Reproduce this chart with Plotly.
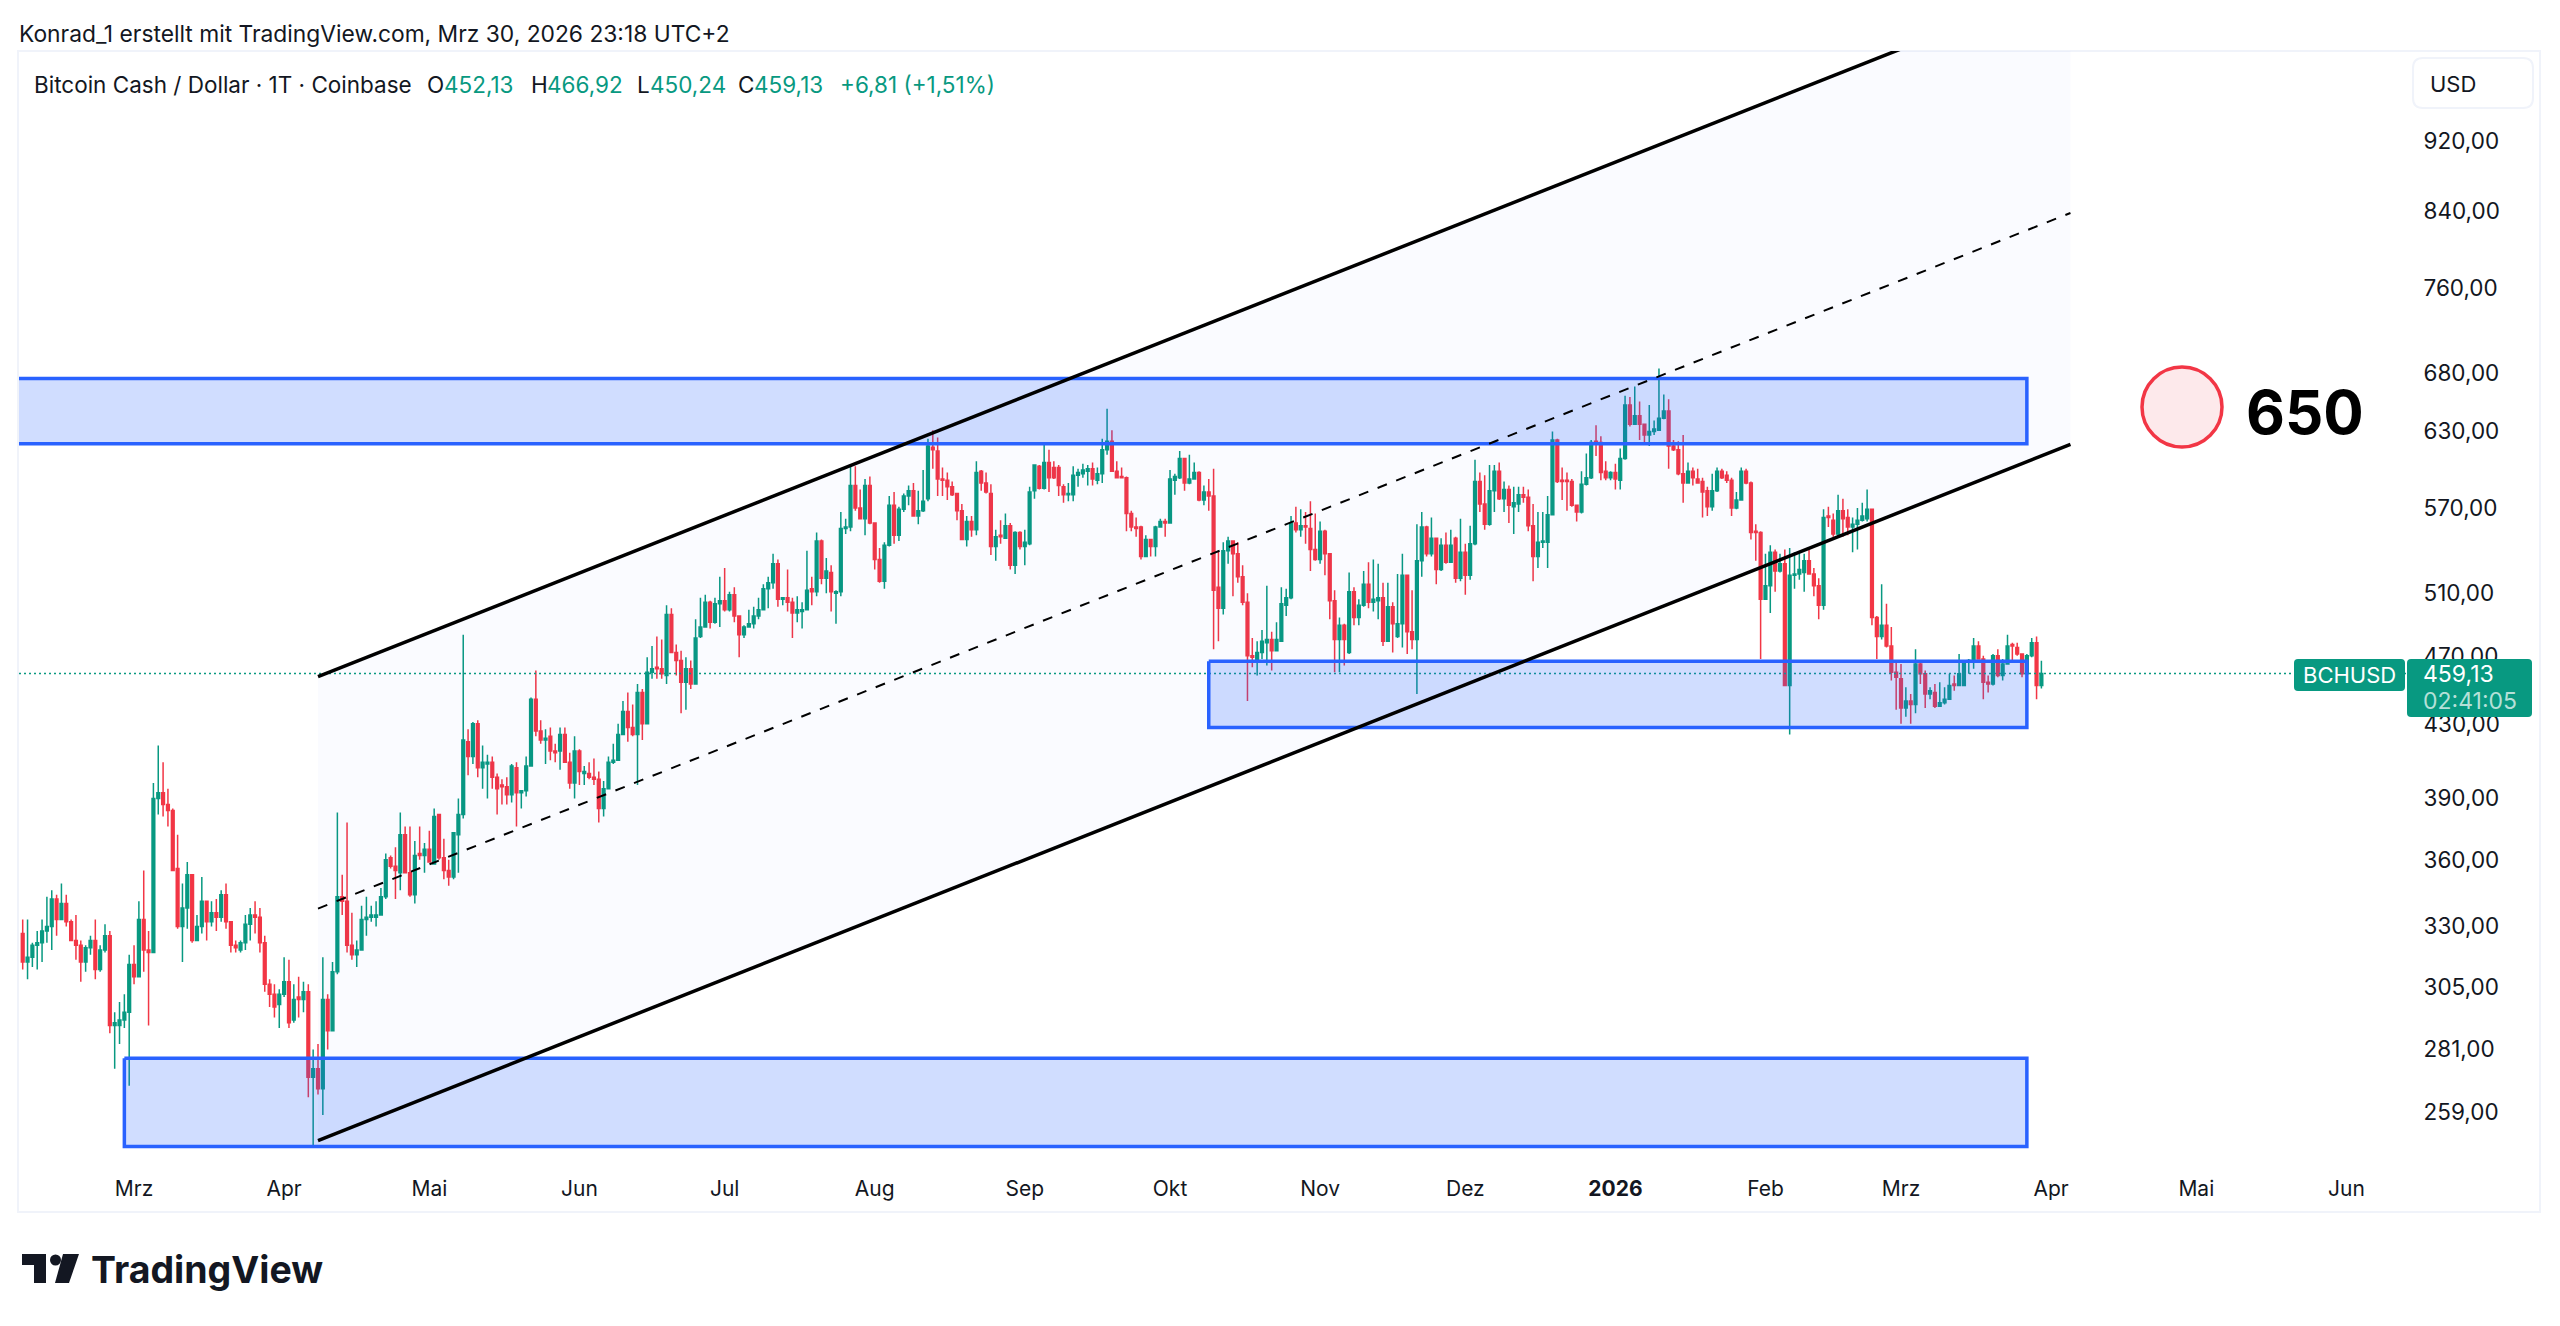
#bitcoin cash daily candles, log scale, with channel and zones drawn on top
import math
import pandas as pd
import plotly.graph_objects as go

W = 2560
H = 1326

# daily candles, first one is 2025-02-06, last one is 2026-03-30
first_day = "2025-02-06"

opens = [
    327,315,317,322,323,328,330,342,333,340,
    332,324,322,315,321,324,312,320,326,290,
    290,292,295,314,309,333,320,319,390,393,
    387,384,356,330,338,353,324,330,341,332,
    336,334,344,332,322,320,323,331,335,334,
    323,306,302,298,302,307,292,301,300,303,
    271,274,267,300,288,311,343,341,322,318,
    320,333,334,334,335,343,361,357,354,372,
    354,344,363,362,365,358,382,361,355,352,
    372,382,420,412,430,406,408,409,401,397,
    396,392,406,393,394,407,444,426,421,423,
    415,415,424,409,398,415,403,403,401,400,
    385,395,409,410,424,437,428,424,448,430,
    460,463,462,458,496,472,467,454,462,453,
    482,488,504,491,503,505,499,509,495,483,
    488,490,495,499,513,517,530,506,507,504,
    497,498,499,513,511,546,520,524,510,511,
    555,556,587,570,562,587,559,533,518,543,
    572,550,569,579,583,564,568,577,617,614,
    592,591,586,581,568,547,560,554,598,589,
    581,542,550,548,557,529,552,542,544,583,
    602,585,605,601,601,586,580,580,595,596,
    598,600,591,596,615,622,598,594,593,566,
    556,556,535,547,542,556,560,559,591,593,
    608,589,592,597,576,582,579,514,500,539,
    546,537,521,504,470,467,472,478,480,473,
    479,502,507,559,554,557,555,540,533,553,
    537,505,480,489,472,511,494,502,516,504,
    505,507,479,501,482,490,522,485,480,532,
    556,537,548,526,543,531,548,520,538,522,
    544,590,573,558,583,598,577,584,571,573,
    580,578,557,535,545,545,565,623,591,591,
    590,572,567,588,593,622,621,598,593,597,
    591,608,652,636,643,636,627,630,631,641,
    647,618,615,596,589,598,592,590,583,571,
    583,598,595,591,570,576,598,589,553,552,
    506,515,538,525,530,452,522,523,524,532,
    523,515,502,564,561,551,568,563,556,558,
    561,562,569,494,482,489,476,460,456,439,
    443,441,465,459,447,448,440,442,444,453,
    452,452,466,467,476,468,454,453,470,458,
    465,477,475,471,459,470,478,452.13,
]
highs = [
    333,333,323,328,333,343,346,344,349,344,
    333,335,324,322,326,333,322,331,328,295,
    299,302,318,322,341,355,328,398,418,409,
    395,385,372,349,359,353,335,352,341,341,
    342,346,349,332,324,324,335,338,341,338,
    326,308,306,304,317,316,306,309,307,306,
    281,283,317,302,315,383,353,378,336,324,
    339,343,339,341,347,363,362,366,383,376,
    376,369,376,368,374,385,382,370,360,373,
    390,483,427,431,432,418,413,412,403,400,
    401,408,409,394,412,445,461,432,427,428,
    419,428,428,414,423,416,407,409,411,404,
    399,412,419,430,443,448,441,453,450,469,
    476,482,480,502,500,477,473,469,467,493,
    507,509,505,507,521,527,511,514,495,489,
    499,501,507,516,521,537,533,507,526,507,
    508,504,539,521,552,547,534,529,512,567,
    562,603,602,584,592,594,559,541,545,579,
    582,571,581,587,589,583,599,624,631,625,
    601,597,590,581,573,564,564,606,599,597,
    588,554,561,566,559,553,553,554,586,603,
    603,620,615,606,603,588,589,602,600,604,
    603,605,601,624,649,631,606,601,594,568,
    563,557,550,547,557,562,562,599,596,614,
    608,611,605,598,587,592,600,539,545,549,
    546,545,529,510,481,479,486,515,485,491,
    514,513,564,571,569,567,575,566,560,554,
    537,512,494,490,524,514,506,525,531,533,
    530,517,517,504,523,537,522,512,558,567,
    557,563,548,548,552,554,549,562,544,557,
    607,597,595,603,603,605,590,587,586,586,
    586,584,573,567,567,579,630,624,601,597,
    592,572,598,612,623,635,626,606,598,604,
    616,660,659,668,655,636,652,639,684,661,
    657,623,622,627,605,601,600,593,586,596,
    601,600,598,593,582,601,600,590,558,553,
    537,543,540,537,540,541,538,537,537,540,
    527,520,569,571,566,580,577,569,563,570,
    574,584,569,495,516,503,488,466,465,451,
    447,474,466,461,451,453,454,451,459,458,
    471,466,468,481,479,470,458,471,474,468,
    483,478,478,471,471,481,482,466.92,
]
lows = [
    312,308,313,312,315,323,320,326,333,330,
    324,316,307,311,318,308,311,319,287,274,
    283,289,268,306,309,311,290,319,382,381,
    376,355,329,315,329,323,324,327,324,330,
    328,332,329,319,319,319,320,324,327,319,
    303,297,293,289,301,289,291,293,295,264,
    248,265,258,281,288,310,335,319,316,313,
    320,326,332,330,335,342,356,342,346,354,
    343,340,360,354,359,358,360,351,348,351,
    354,380,402,408,401,395,390,395,382,387,
    387,388,376,385,391,407,423,419,408,410,
    409,405,409,395,390,397,397,400,397,378,
    381,395,408,410,424,420,423,397,421,430,
    456,456,456,453,472,458,436,438,450,453,
    481,488,487,490,488,498,498,491,469,481,
    488,487,493,499,500,513,501,502,498,481,
    491,487,499,502,508,516,510,498,490,508,
    551,553,568,562,550,558,526,517,513,542,
    544,546,567,572,564,558,567,575,600,579,
    579,576,579,561,547,542,549,550,583,581,
    536,532,544,548,526,523,540,529,543,577,
    584,584,582,592,579,574,575,575,586,593,
    587,587,588,589,611,598,593,593,553,553,
    549,533,535,535,535,556,549,559,580,592,
    583,588,592,575,572,568,474,479,496,530,
    508,517,502,443,463,458,468,464,461,473,
    479,495,506,552,549,544,525,532,530,522,
    493,460,460,464,471,489,489,501,500,498,
    493,476,479,472,481,475,471,474,447,521,
    535,535,516,525,530,531,517,518,509,519,
    543,567,554,557,567,576,567,559,551,567,
    574,553,518,527,541,527,565,589,576,568,
    571,560,566,587,592,610,591,591,591,584,
    584,607,634,636,623,621,618,627,631,640,
    600,614,595,574,589,587,589,563,564,568,
    582,592,589,564,569,576,588,547,532,468,
    506,497,511,524,452,424,513,519,511,523,
    508,493,499,556,549,549,549,550,538,540,
    560,560,489,468,480,475,455,438,430,434,
    430,436,453,439,444,439,440,441,444,449,
    452,452,459,462,468,444,448,452,457,455,
    465,467,470,457,455,469,444,450.24,
]
closes = [
    315,317,322,323,328,330,342,333,340,332,
    324,322,315,321,324,312,320,326,290,291,
    292,295,314,309,333,320,319,390,393,387,
    384,355,330,338,353,324,330,341,332,336,
    334,344,332,322,321,323,331,335,334,323,
    306,302,297,302,307,291,300,300,303,271,
    274,267,300,288,311,343,341,322,318,320,
    333,334,335,335,343,360,357,355,372,354,
    344,362,362,365,359,381,361,355,352,373,
    382,421,412,430,406,409,409,401,395,396,
    392,407,393,394,407,444,426,421,422,415,
    414,424,409,398,415,404,404,401,400,385,
    395,409,410,424,437,428,424,448,430,460,
    462,462,459,496,472,467,454,462,453,481,
    488,504,491,503,505,499,509,495,483,488,
    490,495,499,513,517,530,506,507,504,497,
    499,499,512,511,546,520,525,511,511,555,
    556,587,570,562,587,559,533,518,543,572,
    550,569,579,583,564,568,575,618,615,592,
    591,586,580,568,547,560,554,597,589,582,
    542,549,549,557,529,552,542,545,582,603,
    585,605,593,593,587,580,581,595,597,599,
    600,592,596,615,622,598,593,593,566,556,
    555,535,547,542,556,560,559,592,594,608,
    589,592,597,576,582,579,512,500,539,546,
    537,521,504,470,469,472,479,480,473,480,
    503,507,559,554,557,556,540,533,553,537,
    505,480,489,480,511,494,502,516,504,506,
    507,479,501,490,490,522,485,480,532,556,
    537,548,526,543,531,543,520,538,522,544,
    590,573,558,583,598,577,584,572,574,580,
    578,557,535,545,546,565,623,590,590,590,
    572,567,588,593,621,621,597,593,597,592,
    608,652,636,643,636,627,630,632,641,647,
    618,615,596,589,598,593,589,582,571,583,
    598,593,591,570,576,598,589,552,552,506,
    515,538,525,530,452,522,523,526,532,523,
    515,502,563,563,551,568,562,556,558,561,
    564,569,494,482,489,476,460,457,439,443,
    441,465,459,447,449,440,442,444,452,452,
    459,466,467,476,468,454,453,470,458,465,
    476,476,471,459,470,478,452,459.13,
]
assert len(opens) == len(highs) == len(lows) == len(closes)

last_price = 459.13

# price axis
price_ticks = [920, 840, 760, 680, 630, 570, 510, 470, 430, 390, 360, 330, 305, 281, 259]
price_labels = ["%d,00" % p for p in price_ticks]

# time axis
month_ticks = ["2025-03-01", "2025-04-01", "2025-05-01", "2025-06-01", "2025-07-01", "2025-08-01",
               "2025-09-01", "2025-10-01", "2025-11-01", "2025-12-01", "2026-01-01", "2026-02-01",
               "2026-03-01", "2026-04-01", "2026-05-01", "2026-06-01"]
month_labels = ["Mrz", "Apr", "Mai", "Jun", "Jul", "Aug", "Sep", "Okt", "Nov", "Dez", "<b>2026</b>",
                "Feb", "Mrz", "Apr", "Mai", "Jun"]

# channel: [start, end] for each line
channel_days = ["2025-04-08", "2026-04-05"]
channel_upper = [457.3, 1133.5]
channel_middle = [337.8, 838]
channel_lower = [249.5, 619.4]

# zones: left day, right day, top price, bottom price
zone_days_upper = ["2025-01-15", "2026-03-27"]
zone_prices_upper = [675, 620]
zone_days_middle = ["2025-10-09", "2026-03-27"]
zone_prices_middle = [466.6, 428]
zone_days_lower = ["2025-02-27", "2026-03-27"]
zone_prices_lower = [277.8, 247.6]

UP = "#089981"
DOWN = "#F23645"
BLUE = "#2962FF"
INK = "#131722"
FRAME = "#F0F3FA"
FONT = "Inter"

# plot area in pixels
left, right, top, bottom = 19, 2412, 51, 1165
px_per_day = 4.841
first_x = 22.7


def px(x):
    return x / W


def py(y):
    return 1 - y / H


def rrect(x0, y0, x1, y1, r):
    #rounded box as a path in paper coordinates
    pts = [
        "M %f %f" % (px(x0 + r), py(y0)),
        "L %f %f" % (px(x1 - r), py(y0)),
        "Q %f %f %f %f" % (px(x1), py(y0), px(x1), py(y0 + r)),
        "L %f %f" % (px(x1), py(y1 - r)),
        "Q %f %f %f %f" % (px(x1), py(y1), px(x1 - r), py(y1)),
        "L %f %f" % (px(x0 + r), py(y1)),
        "Q %f %f %f %f" % (px(x0), py(y1), px(x0), py(y1 - r)),
        "L %f %f" % (px(x0), py(y0 + r)),
        "Q %f %f %f %f" % (px(x0), py(y0), px(x0 + r), py(y0)),
        "Z",
    ]
    return " ".join(pts)


def poly(points):
    s = "M " + " L ".join("%f %f" % (px(a), py(b)) for a, b in points)
    return s + " Z"


dates = pd.date_range(first_day, periods=len(closes), freq="D")
x_start = dates[0] + pd.Timedelta(days=(left - first_x) / px_per_day)
x_end = dates[0] + pd.Timedelta(days=(right - first_x) / px_per_day)

# y scale: 920 sits at y=141.5 and 765.6 pixels per e-fold
y_hi = 920 * math.exp((141.5 - top) / 765.6)
y_lo = 920 * math.exp((141.5 - bottom) / 765.6)

fig = go.Figure()

#very light fill of the channel
fig.add_trace(go.Scatter(
    x=[channel_days[0], channel_days[1], channel_days[1], channel_days[0], channel_days[0]],
    y=[channel_upper[0], channel_upper[1], channel_lower[1], channel_lower[0], channel_upper[0]],
    mode="lines", line=dict(width=0), fill="toself", fillcolor="rgba(41,98,255,0.022)",
    hoverinfo="skip"))

fig.add_trace(go.Candlestick(
    x=dates, open=opens, high=highs, low=lows, close=closes,
    increasing=dict(line=dict(color=UP, width=1.5), fillcolor=UP),
    decreasing=dict(line=dict(color=DOWN, width=1.5), fillcolor=DOWN)))

#last price line
fig.add_trace(go.Scatter(
    x=[x_start, x_end], y=[last_price, last_price], mode="lines",
    line=dict(color=UP, width=1.5, dash="2px,3px"), hoverinfo="skip"))

#zones sit over the candles
for days, prices in [(zone_days_upper, zone_prices_upper),
                     (zone_days_middle, zone_prices_middle),
                     (zone_days_lower, zone_prices_lower)]:
    fig.add_trace(go.Scatter(
        x=[days[0], days[1], days[1], days[0], days[0]],
        y=[prices[0], prices[0], prices[1], prices[1], prices[0]],
        mode="lines", line=dict(color=BLUE, width=3.5), fill="toself",
        fillcolor="rgba(41,98,255,0.22)", hoverinfo="skip"))

#channel lines
fig.add_trace(go.Scatter(x=channel_days, y=channel_upper, mode="lines",
                         line=dict(color="black", width=3.5), hoverinfo="skip"))
fig.add_trace(go.Scatter(x=channel_days, y=channel_lower, mode="lines",
                         line=dict(color="black", width=3.5), hoverinfo="skip"))
fig.add_trace(go.Scatter(x=channel_days, y=channel_middle, mode="lines",
                         line=dict(color="black", width=2, dash="10px,10px"), hoverinfo="skip"))

shapes = [
    # chart frame
    dict(type="rect", xref="paper", yref="paper", x0=px(18), x1=px(2540), y0=py(51), y1=py(1212),
         line=dict(color=FRAME, width=2), layer="below"),
    # currency box
    dict(type="path", xref="paper", yref="paper", path=rrect(2413, 58, 2533, 108, 10),
         line=dict(color=FRAME, width=2), fillcolor="white", layer="above"),
    # price labels
    dict(type="path", xref="paper", yref="paper", path=rrect(2294, 659, 2405, 691, 4),
         line=dict(width=0), fillcolor=UP, layer="above"),
    dict(type="path", xref="paper", yref="paper", path=rrect(2407, 659, 2532, 717, 4),
         line=dict(width=0), fillcolor=UP, layer="above"),
    # target marker
    dict(type="circle", xref="paper", yref="paper", x0=px(2142), x1=px(2222), y0=py(367), y1=py(447),
         line=dict(color=DOWN, width=3.5), fillcolor="#FDE9EB", layer="above"),
    # logo
    dict(type="path", xref="paper", yref="paper",
         path=poly([(22, 1254), (46, 1254), (46, 1283), (34, 1283), (34, 1265), (22, 1265)]),
         line=dict(width=0), fillcolor=INK, layer="above"),
    dict(type="circle", xref="paper", yref="paper", x0=px(50), x1=px(61), y0=py(1254.5), y1=py(1265.5),
         line=dict(width=0), fillcolor=INK, layer="above"),
    dict(type="path", xref="paper", yref="paper",
         path=poly([(63, 1254), (79, 1254), (69, 1283), (55, 1283)]),
         line=dict(width=0), fillcolor=INK, layer="above"),
]


def label(x, y, text, size=22.5, color=INK, anchor="left", weight=None):
    if weight:
        text = "<b>%s</b>" % text
    return dict(xref="paper", yref="paper", x=px(x), y=py(y), text=text, showarrow=False,
                xanchor=anchor, yanchor="middle", align=anchor, borderpad=0, borderwidth=0,
                font=dict(family=FONT, size=size, color=color))


annotations = [
    label(19, 33, "Konrad_1 erstellt mit TradingView.com, Mrz 30, 2026 23:18 UTC+2", size=22.8),
    label(34, 84, "Bitcoin Cash / Dollar · 1T · Coinbase"),
    label(427, 84, "O"), label(444, 84, "452,13", color=UP),
    label(531, 84, "H"), label(547, 84, "466,92", color=UP),
    label(637, 84, "L"), label(650, 84, "450,24", color=UP),
    label(738, 84, "C"), label(754, 84, "459,13", color=UP),
    label(840, 84, "+6,81 (+1,51%)", color=UP),
    label(2430, 84, "USD", size=22),
    label(2349.5, 675, "BCHUSD", size=22, color="white", anchor="center"),
    label(2423, 674, "459,13", size=23, color="white"),
    label(2423, 701, "02:41:05", size=23, color="#B5E0D8"),
    label(2246, 412, "650", size=60, color="black", weight=True),
    label(91, 1269, "TradingView", size=37.5, weight=True),
]

fig.update_layout(
    width=W, height=H, autosize=False,
    margin=dict(l=0, r=0, t=0, b=0, pad=0),
    paper_bgcolor="white", plot_bgcolor="white",
    showlegend=False,
    boxgap=0.2,
    shapes=shapes, annotations=annotations,
    font=dict(family=FONT, color=INK, size=22),
    xaxis=dict(
        domain=[px(left), px(right)], range=[x_start, x_end], type="date",
        rangeslider=dict(visible=False), showgrid=False, zeroline=False, showline=False,
        tickmode="array", tickvals=month_ticks, ticktext=month_labels, tickangle=0,
        ticks="outside", ticklen=5, tickcolor="rgba(0,0,0,0)",
        tickfont=dict(family=FONT, size=21, color=INK)),
    yaxis=dict(
        domain=[py(bottom), py(top)], type="log",
        range=[math.log10(y_lo), math.log10(y_hi)],
        side="right", showgrid=False, zeroline=False, showline=False,
        tickmode="array", tickvals=price_ticks, ticktext=price_labels,
        ticks="outside", ticklen=6, tickcolor="rgba(0,0,0,0)",
        tickfont=dict(family=FONT, size=22.5, color=INK)),
)

# the page body has a default margin, drop it so the figure starts at the corner
fig.write_html("out.html", config={"displayModeBar": False},
               post_script="document.body.style.margin='0';")
